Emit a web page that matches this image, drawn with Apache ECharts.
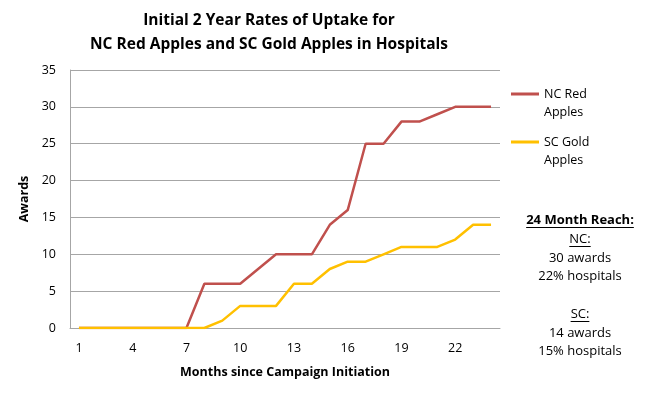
<!DOCTYPE html>
<html><head><meta charset="utf-8">
<script src="https://cdn.jsdelivr.net/npm/echarts@6/dist/echarts.min.js"></script>
<style>html,body{margin:0;padding:0;background:#fff}#c{width:659px;height:396px}</style>
</head><body><div id="c"></div>
<script>
const months = ['1','2','3','4','5','6','7','8','9','10','11','12','13','14','15','16','17','18','19','20','21','22','23','24'];
const ncRed = [0,0,0,0,0,0,0,6,6,6,8,10,10,10,14,16,25,25,28,28,29,30,30,30];
const scGold = [0,0,0,0,0,0,0,0,1,3,3,3,6,6,8,9,9,10,11,11,11,12,14,14];
const seriesNames = ['NC Red Apples','SC Gold Apples'];
const legendLabels = {'NC Red Apples':'NC Red\nApples','SC Gold Apples':'SC Gold\nApples'};
const titleLines = ['Initial 2 Year Rates of Uptake for','NC Red Apples and SC Gold Apples in Hospitals'];
const noteLines = ['24 Month Reach:','NC:','30 awards','22% hospitals','','SC:','14 awards','15% hospitals'];
const noteUnderline = [true,true,false,false,false,true,false,false];
const font = 'Open Sans';
const chart = echarts.init(document.getElementById('c'));
const cx = 580;
const noteY = [220,239,258,276,0,314,333,351];
const ctx = document.createElement('canvas').getContext('2d');
const graphics = [];
noteLines.forEach((t,i)=>{
  if(!t) return;
  const f = (i===0?'bold 13px ':'13px ')+'"'+font+'"';
  graphics.push({type:'text',x:cx,y:noteY[i],style:{text:t,font:f,fill:'#000',align:'center',verticalAlign:'middle'}});
  if(noteUnderline[i]){
    ctx.font = f;
    const w = ctx.measureText(t).width;
    graphics.push({type:'line',shape:{x1:cx-w/2,y1:noteY[i]+7.5,x2:cx+w/2,y2:noteY[i]+7.5},style:{stroke:'#000',lineWidth:1}});
  }
});
// legend icon: bar aligned with the first text line (box 28x36)
const legendIcon = 'path://M0,0H28V0.05H0Z M0,7.5H28V10.5H0Z M0,35.95H28V36H0Z';
chart.setOption({
  animation:false,
  textStyle:{fontFamily:font},
  title:{text:titleLines.join('\n'),left:264,top:4,textAlign:'center',
    textStyle:{fontSize:15.5,fontWeight:'bold',color:'#000',lineHeight:24,fontFamily:font}},
  grid:{left:70,right:159,top:70,bottom:68},
  legend:{orient:'vertical',left:511,top:85,padding:0,itemWidth:28,itemHeight:36,itemGap:12,
    icon:legendIcon,align:'left',
    formatter:n=>legendLabels[n],
    textStyle:{fontSize:12.5,color:'#000',lineHeight:18,fontFamily:font},
    data:seriesNames},
  xAxis:{type:'category',data:months,boundaryGap:true,
    name:'Months since Campaign Initiation',nameLocation:'middle',nameGap:38,
    nameTextStyle:{fontSize:12.5,fontWeight:'bold',color:'#000'},
    axisLine:{lineStyle:{color:'#A6A6A6'}},axisTick:{show:false},
    axisLabel:{interval:2,color:'#000',fontSize:12.5,margin:14}},
  yAxis:{type:'value',min:0,max:35,interval:5,
    name:'Awards',nameLocation:'middle',nameGap:36,
    nameTextStyle:{fontSize:12.5,fontWeight:'bold',color:'#000'},
    axisLine:{show:true,lineStyle:{color:'#A6A6A6'}},axisTick:{show:false},
    axisLabel:{color:'#000',fontSize:12.5,margin:14},
    splitLine:{lineStyle:{color:'#A6A6A6',width:1}}},
  series:[
    {name:seriesNames[0],type:'line',data:ncRed,symbol:'none',lineStyle:{color:'#C0504D',width:2.5},itemStyle:{color:'#C0504D'}},
    {name:seriesNames[1],type:'line',data:scGold,symbol:'none',lineStyle:{color:'#FFC000',width:2.5},itemStyle:{color:'#FFC000'}}
  ],
  graphic:graphics
});
</script></body></html>
